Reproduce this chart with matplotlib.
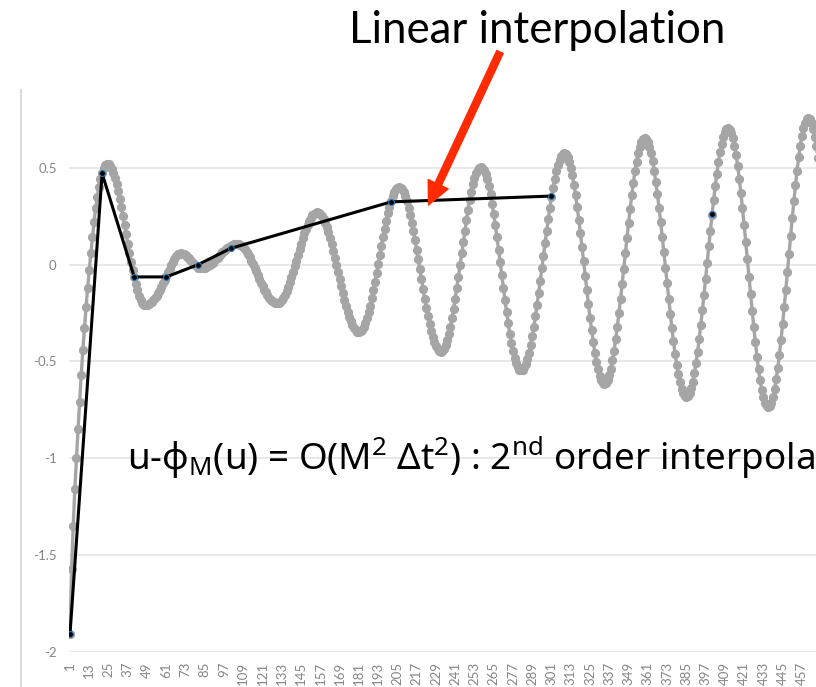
import numpy as np
import matplotlib
matplotlib.use('Agg')
import matplotlib.pyplot as plt
from matplotlib.patches import FancyArrowPatch
from matplotlib.lines import Line2D

plt.rcParams['mathtext.default'] = 'regular'

# full signal u, one value per step
signal = [
    -1.905, -1.57, -1.35, -1.16, -1.0, -0.85, -0.71, -0.57, -0.44, -0.33,
    -0.22, -0.12, -0.03, 0.06, 0.14, 0.22, 0.29, 0.35, 0.40, 0.44,
    0.47, 0.50, 0.515, 0.52,
    0.517, 0.508, 0.492, 0.471, 0.445, 0.413, 0.377, 0.338, 0.295, 0.249,
    0.203, 0.155, 0.107, 0.061, 0.015, -0.028, -0.067, -0.103, -0.134, -0.161,
    -0.182, -0.198, -0.207, -0.210,
    -0.209, -0.206, -0.201, -0.194, -0.185, -0.174, -0.161, -0.147, -0.131, -0.114,
    -0.096, -0.078, -0.060, -0.041, -0.022, -0.004, 0.014, 0.030, 0.043, 0.052,
    0.056, 0.057,
    0.056, 0.053, 0.047, 0.040, 0.032, 0.023, 0.014, 0.005, -0.003, -0.010,
    -0.016, -0.019, -0.020,
    -0.019, -0.017, -0.014, -0.010, -0.004, 0.002, 0.009, 0.017, 0.026, 0.035,
    0.044, 0.053, 0.062, 0.071, 0.079, 0.086, 0.092, 0.098, 0.102, 0.105,
    0.107, 0.108,
    0.107, 0.103, 0.097, 0.089, 0.079, 0.066, 0.052, 0.037, 0.020, 0.002,
    -0.017, -0.036, -0.056, -0.075, -0.094, -0.112, -0.129, -0.144, -0.158, -0.171,
    -0.181, -0.189, -0.195, -0.199, -0.200,
    -0.198, -0.193, -0.184, -0.171, -0.155, -0.136, -0.115, -0.091, -0.065, -0.038,
    -0.009, 0.020, 0.050, 0.079, 0.108, 0.135, 0.161, 0.185, 0.206, 0.225,
    0.241, 0.254, 0.263, 0.268, 0.270,
    0.268, 0.261, 0.250, 0.235, 0.215, 0.192, 0.166, 0.137, 0.105, 0.071,
    0.035, -0.002, -0.039, -0.076, -0.113, -0.149, -0.183, -0.215, -0.244, -0.270,
    -0.293, -0.313, -0.328, -0.339, -0.346, -0.348,
    -0.345, -0.336, -0.322, -0.302, -0.277, -0.247, -0.212, -0.174, -0.133, -0.090,
    -0.044, 0.003, 0.049, 0.096, 0.142, 0.185, 0.226, 0.264, 0.298, 0.329,
    0.354, 0.374, 0.388, 0.397, 0.400,
    0.397, 0.388, 0.372, 0.351, 0.325, 0.293, 0.257, 0.216, 0.173, 0.126,
    0.077, 0.026, -0.025, -0.076, -0.127, -0.176, -0.223, -0.266, -0.307, -0.343,
    -0.375, -0.401, -0.422, -0.437, -0.447, -0.450,
    -0.446, -0.435, -0.417, -0.391, -0.359, -0.321, -0.277, -0.229, -0.176, -0.120,
    -0.062, -0.003, 0.057, 0.116, 0.174, 0.230, 0.283, 0.331, 0.375, 0.413,
    0.445, 0.470, 0.489, 0.500, 0.504,
    0.500, 0.488, 0.467, 0.439, 0.404, 0.362, 0.314, 0.260, 0.203, 0.141,
    0.077, 0.012, -0.054, -0.119, -0.183, -0.244, -0.302, -0.356, -0.404, -0.446,
    -0.482, -0.509, -0.530, -0.542, -0.546,
    -0.542, -0.531, -0.512, -0.487, -0.454, -0.415, -0.370, -0.321, -0.266, -0.208,
    -0.147, -0.084, -0.019, 0.046, 0.111, 0.174, 0.235, 0.293, 0.347, 0.397,
    0.442, 0.481, 0.514, 0.539, 0.558, 0.569, 0.573,
    0.568, 0.554, 0.531, 0.500, 0.460, 0.412, 0.358, 0.297, 0.232, 0.163,
    0.090, 0.016, -0.058, -0.132, -0.204, -0.274, -0.339, -0.400, -0.454, -0.502,
    -0.541, -0.573, -0.596, -0.610, -0.615,
    -0.610, -0.595, -0.571, -0.537, -0.494, -0.444, -0.386, -0.321, -0.252, -0.178,
    -0.101, -0.022, 0.058, 0.137, 0.214, 0.288, 0.357, 0.422, 0.480, 0.530,
    0.573, 0.607, 0.631, 0.646, 0.651,
    0.646, 0.632, 0.608, 0.575, 0.533, 0.483, 0.426, 0.363, 0.294, 0.220,
    0.143, 0.064, -0.017, -0.097, -0.176, -0.253, -0.327, -0.396, -0.459, -0.516,
    -0.566, -0.608, -0.641, -0.665, -0.679, -0.684,
    -0.679, -0.664, -0.639, -0.605, -0.561, -0.510, -0.451, -0.385, -0.313, -0.237,
    -0.157, -0.075, 0.009, 0.093, 0.175, 0.255, 0.331, 0.403, 0.469, 0.528,
    0.579, 0.623, 0.657, 0.682, 0.697, 0.702,
    0.696, 0.679, 0.652, 0.613, 0.565, 0.507, 0.442, 0.369, 0.289, 0.206,
    0.118, 0.029, -0.062, -0.151, -0.239, -0.322, -0.401, -0.475, -0.540, -0.598,
    -0.646, -0.685, -0.712, -0.729, -0.735,
    -0.729, -0.712, -0.683, -0.643, -0.593, -0.533, -0.465, -0.389, -0.308, -0.221,
    -0.130, -0.037, 0.056, 0.149, 0.240, 0.327, 0.408, 0.484, 0.552, 0.612,
    0.662, 0.702, 0.731, 0.748, 0.754,
    0.748, 0.730, 0.701, 0.660, 0.609, 0.548,
]

# sampled points joined by the linear interpolant
interp_idx = [1, 21, 41, 61, 81, 101, 201, 301]
interp_val = [-1.905, 0.47, -0.064, -0.064, 0.0, 0.083, 0.323, 0.353]
# the lone sample further right
extra_idx = [401]
extra_val = [0.258]

ytick_vals = [-2, -1.5, -1, -0.5, 0, 0.5]
ytick_labels = ['-2', '-1.5', '-1', '-0.5', '0', '0.5']
xtick_vals = list(range(1, 458, 12))

W, H = 816, 687
fig = plt.figure(figsize=(W / 100, H / 100), dpi=100)
ax = fig.add_axes([69.2 / W, (H - 652.3) / H, 1 - 69.2 / W, (652.3 - 90) / H])

steps = np.arange(1, len(signal) + 1)
ax.plot(steps, signal, color='#a5a5a5', lw=2.4, marker='o', ms=5.6,
        mfc='#a5a5a5', mec='#a5a5a5', zorder=2)
ax.plot(interp_idx, interp_val, color='black', lw=2.2, marker='o', ms=4.2,
        mfc='black', mec='#2e75b6', mew=0.8, zorder=3)
ax.plot(extra_idx, extra_val, ls='none', marker='o', ms=4.2,
        mfc='black', mec='#2e75b6', mew=0.8, zorder=3)

ax.set_xlim(0.5, 465.8)
ax.set_ylim(-2, 0.9)
ax.set_yticks(ytick_vals)
ax.set_yticklabels(ytick_labels)
ax.set_xticks(xtick_vals)
ax.set_xticklabels([str(v) for v in xtick_vals], rotation=90)
for lab in ax.get_xticklabels() + ax.get_yticklabels():
    lab.set_fontfamily('Lato')
    lab.set_fontsize(9.5)
    lab.set_color('#858585')
ax.tick_params(length=0)
ax.tick_params(axis='y', pad=9)
ax.tick_params(axis='x', pad=7)
ax.grid(axis='y', color='#e4e4e4', lw=1.2)
ax.set_axisbelow(True)
for s in ax.spines.values():
    s.set_visible(False)

# chart-area border on the left
fig.add_artist(Line2D([21 / W, 21 / W], [0, (H - 90) / H],
                      transform=fig.transFigure, color='#d9d9d9', lw=1.5))

fig.text(537 / W, (H - 43) / H, 'Linear interpolation', ha='center',
         va='baseline', fontsize=31.5, family='Lato', color='black')

arrow = FancyArrowPatch((500 / W, (H - 52) / H), (428.5 / W, (H - 205) / H),
                        transform=fig.transFigure,
                        arrowstyle='simple,head_length=0.75,head_width=0.72,tail_width=0.23',
                        mutation_scale=22, color='#ff2a00', shrinkA=0, shrinkB=0)
fig.add_artist(arrow)

fig.text(127 / W, (H - 470) / H,
         r'u-ϕ$_\mathregular{M}$(u) = O(M$^\mathregular{2}$ Δt$^\mathregular{2}$) : '
         r'2$^\mathregular{nd}$ order interpolation',
         ha='left', va='baseline', fontsize=26.5, family='Noto Sans', color='black')

fig.savefig('out.png', dpi=100)
